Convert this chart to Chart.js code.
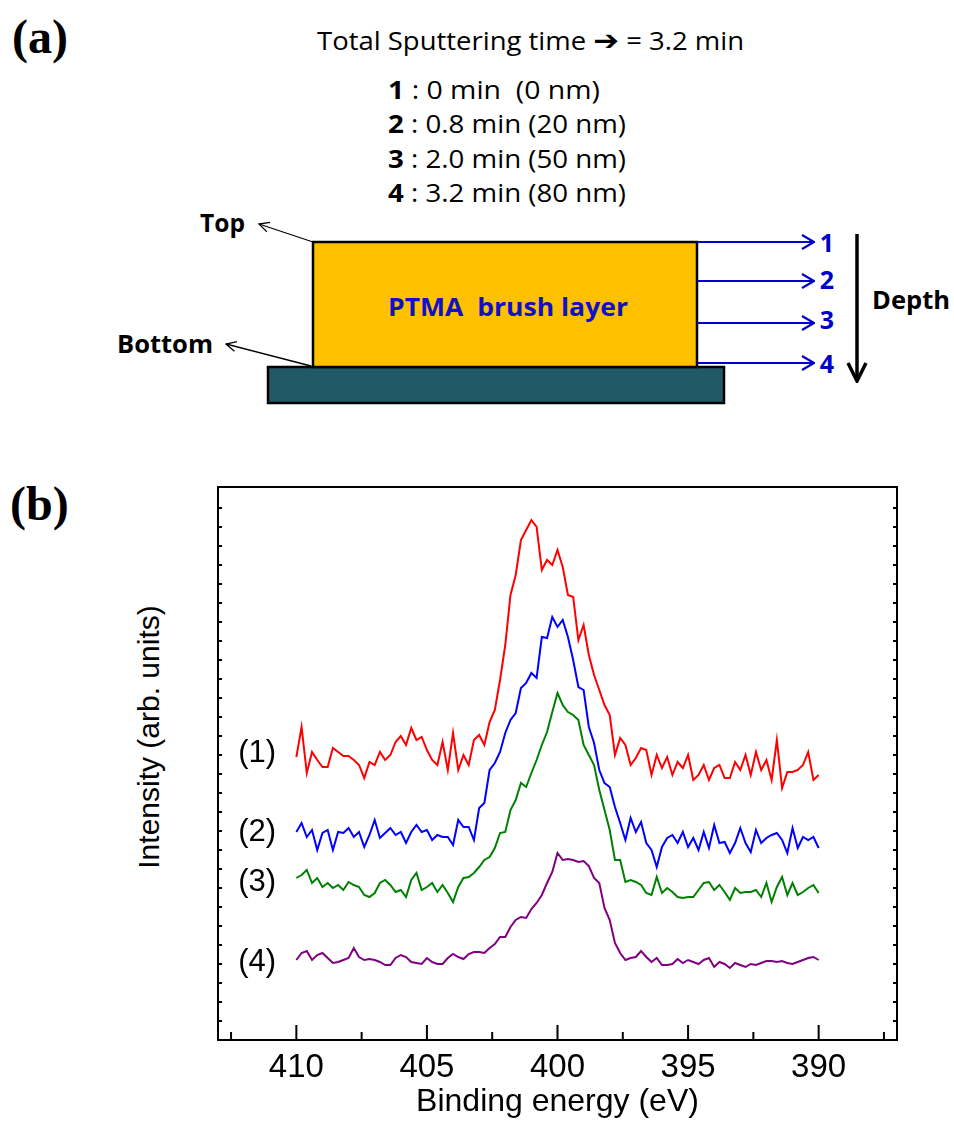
<!DOCTYPE html>
<html>
<head>
<meta charset="utf-8">
<script src="https://cdn.jsdelivr.net/npm/chart.js@4.4.1/dist/chart.umd.min.js"></script>
<style>
  html, body { margin: 0; padding: 0; background: #fff; }
  #page { position: relative; width: 954px; height: 1143px; overflow: hidden; }
  #sketch { position: absolute; left: 0; top: 0; }
  #plot { position: absolute; left: 0; top: 470px; width: 954px; height: 673px; }
  svg text { white-space: pre; }
</style>
</head>
<body>
<div id="page">
  <svg id="sketch" width="954" height="1143" viewBox="0 0 954 1143">
    <defs>
      <marker id="headBlue" viewBox="0 0 14 16" refX="13" refY="8" markerWidth="14" markerHeight="16" orient="auto" markerUnits="userSpaceOnUse">
        <path d="M1,1 L13,8 L1,15" fill="none" stroke="#0000cc" stroke-width="2.2"/>
      </marker>
      <marker id="headThin" viewBox="0 0 12 12" refX="11" refY="6" markerWidth="12" markerHeight="12" orient="auto" markerUnits="userSpaceOnUse">
        <path d="M1,1 L11,6 L1,11" fill="none" stroke="#000" stroke-width="1.3"/>
      </marker>
      <marker id="headBold" viewBox="0 0 22 22" refX="20" refY="11" markerWidth="22" markerHeight="22" orient="auto" markerUnits="userSpaceOnUse">
        <path d="M2,2 L20,11 L2,20" fill="none" stroke="#000" stroke-width="3.5"/>
      </marker>
    </defs>

    <!-- panel letters -->
    <text x="12" y="53" font-family="Liberation Serif, Times New Roman, serif" font-weight="bold" font-size="48">(a)</text>
    <text x="10" y="520" font-family="Liberation Serif, Times New Roman, serif" font-weight="bold" font-size="48">(b)</text>

    <!-- sputtering notes -->
    <g font-family="Open Sans, sans-serif" font-size="25" fill="#000">
      <text x="317" y="50" textLength="427" lengthAdjust="spacingAndGlyphs">Total Sputtering time <tspan font-family="DejaVu Sans" font-weight="bold" font-size="28">➔</tspan> = 3.2 min</text>
      <text x="388" y="99" textLength="212" lengthAdjust="spacingAndGlyphs"><tspan font-weight="bold">1</tspan> : 0 min  (0 nm)</text>
      <text x="388" y="133" textLength="238" lengthAdjust="spacingAndGlyphs"><tspan font-weight="bold">2</tspan> : 0.8 min (20 nm)</text>
      <text x="388" y="168" textLength="238" lengthAdjust="spacingAndGlyphs"><tspan font-weight="bold">3</tspan> : 2.0 min (50 nm)</text>
      <text x="388" y="202" textLength="238" lengthAdjust="spacingAndGlyphs"><tspan font-weight="bold">4</tspan> : 3.2 min (80 nm)</text>
    </g>

    <!-- layer stack -->
    <rect x="268" y="367" width="456" height="36" fill="#215968" stroke="#000" stroke-width="2.5"/>
    <rect x="313" y="242" width="384" height="125" fill="#ffc000" stroke="#000" stroke-width="2.5"/>
    <text x="388" y="316" textLength="240" lengthAdjust="spacingAndGlyphs" font-family="Open Sans, sans-serif" font-weight="bold" font-size="25" fill="#1010c8">PTMA  brush layer</text>

    <!-- top / bottom pointers -->
    <line x1="313" y1="242" x2="259" y2="224" stroke="#000" stroke-width="1.3" marker-end="url(#headThin)"/>
    <line x1="311" y1="366" x2="226" y2="344" stroke="#000" stroke-width="1.3" marker-end="url(#headThin)"/>
    <g font-family="Open Sans, sans-serif" font-weight="bold" font-size="25" fill="#000">
      <text x="200" y="232" textLength="45" lengthAdjust="spacingAndGlyphs">Top</text>
      <text x="117" y="353" textLength="96" lengthAdjust="spacingAndGlyphs">Bottom</text>
      <text x="872" y="309" textLength="78" lengthAdjust="spacingAndGlyphs">Depth</text>
    </g>

    <!-- depth probes -->
    <g stroke="#0000cc" stroke-width="2">
      <line x1="697" y1="242" x2="814" y2="242" marker-end="url(#headBlue)"/>
      <line x1="697" y1="281" x2="814" y2="281" marker-end="url(#headBlue)"/>
      <line x1="697" y1="323" x2="814" y2="323" marker-end="url(#headBlue)"/>
      <line x1="697" y1="363" x2="814" y2="363" marker-end="url(#headBlue)"/>
    </g>
    <g font-family="Open Sans, sans-serif" font-weight="bold" font-size="25" fill="#0000cc" text-anchor="middle">
      <text x="827" y="252">1</text>
      <text x="827" y="289">2</text>
      <text x="827" y="329">3</text>
      <text x="827" y="373">4</text>
    </g>
    <line x1="857" y1="234" x2="857" y2="381" stroke="#000" stroke-width="3.5" marker-end="url(#headBold)"/>

    <!-- y axis title of panel (b) -->
    <text x="148" y="737" transform="rotate(-90 148 737)" text-anchor="middle" dominant-baseline="central"
          font-family="Liberation Sans, Arial, sans-serif" font-size="30" fill="#000">Intensity (arb. units)</text>
  </svg>
  <div id="plot"><canvas id="xps"></canvas></div>
</div>

<script>
// Binding energy grid (eV)
const energy = [
  410.0, 409.8, 409.6, 409.4, 409.2, 409.0, 408.8, 408.6, 408.4, 408.2,
  408.0, 407.8, 407.6, 407.4, 407.2, 407.0, 406.8, 406.6, 406.4, 406.2,
  406.0, 405.8, 405.6, 405.4, 405.2, 405.0, 404.8, 404.6, 404.4, 404.2,
  404.0, 403.8, 403.6, 403.4, 403.2, 403.0, 402.8, 402.6, 402.4, 402.2,
  402.0, 401.8, 401.6, 401.4, 401.2, 401.0, 400.8, 400.6, 400.4, 400.2,
  400.0, 399.8, 399.6, 399.4, 399.2, 399.0, 398.8, 398.6, 398.4, 398.2,
  398.0, 397.8, 397.6, 397.4, 397.2, 397.0, 396.8, 396.6, 396.4, 396.2,
  396.0, 395.8, 395.6, 395.4, 395.2, 395.0, 394.8, 394.6, 394.4, 394.2,
  394.0, 393.8, 393.6, 393.4, 393.2, 393.0, 392.8, 392.6, 392.4, 392.2,
  392.0, 391.8, 391.6, 391.4, 391.2, 391.0, 390.8, 390.6, 390.4, 390.2,
  390.0
];

// Intensities (arb. units, offset spectra)
const depth1 = [
  283, 313, 267, 288, 280, 273, 273, 292, 288, 284,
  284, 280, 275, 262, 278, 275, 288, 280, 285, 298,
  304, 295, 312, 300, 303, 290, 280, 275, 298, 270,
  307, 270, 285, 275, 300, 305, 295, 318, 330, 360,
  395, 445, 465, 500, 510, 520, 513, 470, 480, 475,
  490, 473, 445, 443, 400, 415, 385, 365, 350, 335,
  325, 285, 302, 295, 275, 282, 292, 290, 265, 285,
  272, 283, 265, 278, 272, 285, 260, 265, 275, 260,
  272, 275, 262, 262, 278, 270, 285, 265, 288, 270,
  280, 260, 300, 252, 268, 268, 270, 275, 288, 260,
  265
];
const depth2 = [
  208, 217, 203, 210, 190, 207, 210, 190, 208, 207,
  212, 203, 208, 193, 205, 220, 202, 207, 212, 205,
  208, 197, 208, 215, 208, 210, 200, 205, 203, 203,
  195, 220, 213, 213, 200, 232, 237, 270, 277, 288,
  307, 320, 327, 352, 357, 367, 362, 403, 402, 423,
  413, 420, 403, 380, 353, 350, 313, 297, 270, 257,
  253, 233, 217, 200, 222, 208, 218, 197, 190, 173,
  193, 202, 205, 197, 208, 193, 202, 190, 208, 192,
  215, 197, 198, 187, 197, 212, 197, 188, 210, 197,
  202, 205, 207, 200, 187, 212, 192, 203, 200, 203,
  192
];
const depth3 = [
  162, 165, 170, 157, 162, 153, 157, 152, 155, 150,
  158, 155, 153, 145, 143, 147, 157, 160, 155, 148,
  150, 143, 160, 167, 150, 153, 157, 148, 155, 147,
  138, 153, 162, 163, 167, 173, 180, 183, 192, 207,
  208, 230, 240, 257, 253, 267, 280, 295, 308, 328,
  347, 335, 328, 325, 320, 295, 285, 275, 250, 230,
  210, 180, 180, 158, 160, 158, 155, 147, 145, 163,
  147, 152, 148, 143, 142, 143, 143, 150, 157, 158,
  150, 155, 148, 140, 152, 147, 148, 148, 150, 143,
  157, 138, 153, 163, 145, 157, 145, 148, 152, 155,
  147
];
const depth4 = [
  80, 87, 89, 80, 85, 87, 82, 77, 78, 80,
  82, 92, 83, 80, 81, 80, 78, 75, 75, 82,
  85, 83, 78, 77, 76, 82, 78, 76, 76, 82,
  86, 83, 81, 86, 88, 88, 87, 92, 96, 103,
  103, 113, 120, 123, 122, 131, 137, 145, 157, 168,
  187, 180, 181, 180, 178, 179, 174, 162, 157, 132,
  120, 97, 87, 80, 82, 83, 89, 83, 78, 82,
  75, 75, 76, 81, 77, 80, 78, 76, 80, 82,
  73, 78, 76, 72, 77, 75, 73, 76, 75, 77,
  79, 79, 78, 79, 77, 76, 78, 80, 82, 83,
  80
];

const seriesTags = ['(1)', '(2)', '(3)', '(4)'];
const seriesColors = ['#ff0000', '#0000ff', '#008000', '#800080'];
const xTickStep = 2.5;
const yTickStep = 19;

const font = 'Liberation Sans, Arial, sans-serif';

function toPoints(values) {
    return energy.map((e, i) => ({ x: e, y: values[i] }));
}

// frame, inward ticks and the (n) tags
const framePlugin = {
    id: 'frame',
    afterDraw(chart) {
        const { ctx, chartArea: a, scales: { x, y } } = chart;
        ctx.save();
        ctx.strokeStyle = '#000';
        ctx.lineWidth = 2;
        ctx.strokeRect(a.left, a.top, a.right - a.left, a.bottom - a.top);

        ctx.beginPath();
        x.ticks.forEach(t => {
            const v = t.value;
            if (v <= x.min || v >= x.max) return;
            const px = x.getPixelForValue(v);
            const len = Math.abs(v % 5) < 1e-6 ? 15 : 8;
            ctx.moveTo(px, a.bottom);
            ctx.lineTo(px, a.bottom - len);
        });
        y.ticks.forEach(t => {
            const v = t.value;
            if (v <= y.min || v >= y.max) return;
            const py = y.getPixelForValue(v);
            ctx.moveTo(a.left, py);
            ctx.lineTo(a.left + 4, py);
            ctx.moveTo(a.right, py);
            ctx.lineTo(a.right - 4, py);
        });
        ctx.stroke();

        ctx.fillStyle = '#000';
        ctx.font = '31px ' + font;
        ctx.textAlign = 'center';
        ctx.textBaseline = 'middle';
        const tagLevels = [287, 208, 158, 78];
        seriesTags.forEach((tag, i) => {
            ctx.fillText(tag, x.getPixelForValue(411.5), y.getPixelForValue(tagLevels[i]));
        });
        ctx.restore();
    }
};

function initChart() {
    const series = [depth1, depth2, depth3, depth4];
    new Chart(document.getElementById('xps'), {
        type: 'line',
        data: {
            datasets: series.map((values, i) => ({
                label: seriesTags[i],
                data: toPoints(values),
                borderColor: seriesColors[i],
                borderWidth: 2,
                pointRadius: 0,
                tension: 0,
                fill: false
            }))
        },
        options: {
            responsive: true,
            maintainAspectRatio: false,
            animation: false,
            layout: { padding: { left: 0, top: 17, right: 57, bottom: 0 } },
            plugins: { legend: { display: false }, tooltip: { enabled: false } },
            scales: {
                x: {
                    type: 'linear',
                    reverse: true,
                    min: 387,
                    max: 413,
                    grid: { display: false, drawTicks: false },
                    border: { display: false },
                    ticks: {
                        stepSize: xTickStep,
                        includeBounds: false,
                        autoSkip: false,
                        maxRotation: 0,
                        padding: 8,
                        color: '#000',
                        font: { family: font, size: 33 },
                        callback: v => (Math.abs(v % 5) < 1e-6 ? String(v) : '')
                    },
                    title: {
                        display: true,
                        text: 'Binding energy (eV)',
                        color: '#000',
                        font: { family: font, size: 32 },
                        padding: { top: 0, bottom: 22 }
                    },
                    afterFit: s => { s.height = 103; }
                },
                y: {
                    min: 0,
                    max: 553,
                    grid: { display: false, drawTicks: false },
                    border: { display: false },
                    ticks: { stepSize: yTickStep, display: false },
                    afterFit: s => { s.width = 218; }
                }
            }
        },
        plugins: [framePlugin]
    });
}

document.addEventListener('DOMContentLoaded', initChart);
</script>
</body>
</html>
